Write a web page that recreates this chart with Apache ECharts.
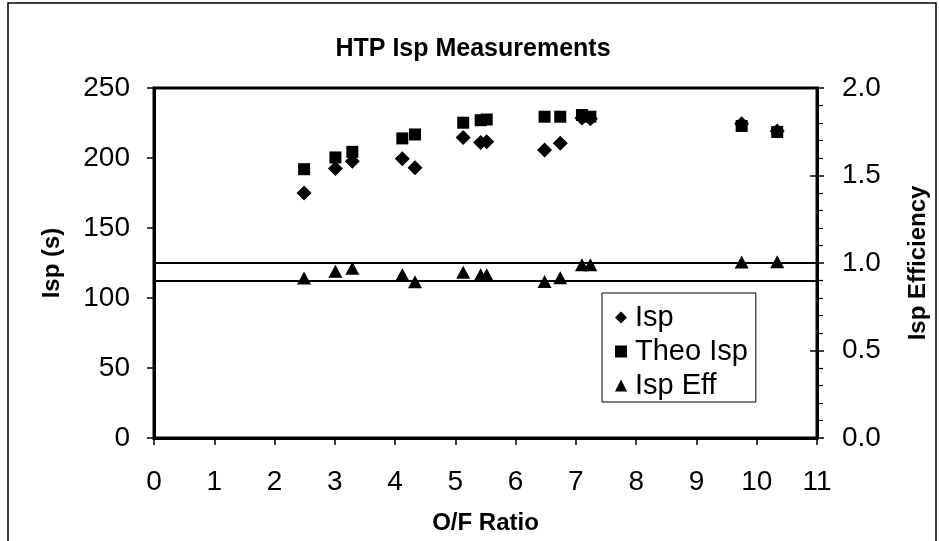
<!DOCTYPE html>
<html>
<head>
<meta charset="utf-8">
<script src="https://cdn.jsdelivr.net/npm/echarts@6/dist/echarts.min.js"></script>
<style>
html,body{margin:0;padding:0;background:#fff;}
#chart{width:939px;height:541px;}
</style>
</head>
<body>
<div id="chart"></div>
<script>
// Data
const ofRatio   = [2.49, 3.01, 3.29, 4.12, 4.33, 5.13, 5.42, 5.52, 6.48, 6.74, 7.10, 7.24, 9.75, 10.34];
const ispValues = [175, 192.5, 197.7, 199.4, 193, 214.7, 211, 211.6, 205.7, 210.5, 228.5, 228, 224.5, 219.3];
const theoIsp   = [192, 200.4, 204.4, 214, 216.8, 225.2, 227, 227.5, 229.5, 229.5, 230.7, 229.5, 222.9, 218.6];
const ispEff    = [0.914, 0.953, 0.97, 0.934, 0.893, 0.947, 0.933, 0.933, 0.895, 0.916, 0.99, 0.99, 1.006, 1.007];
const refLines  = [1.0, 0.9];
const seriesNames = ['Isp', 'Theo Isp', 'Isp Eff'];

const pair = (xs, ys) => xs.map((x, i) => [x, ys[i]]);
const FONT = '"Liberation Sans", Arial, Helvetica, sans-serif';

const chart = echarts.init(document.getElementById('chart'), null, {renderer: 'canvas'});
chart.setOption({
  backgroundColor: '#fff',
  animation: false,
  title: {
    text: 'HTP Isp Measurements',
    left: 468, top: 32, textAlign: 'center',
    textStyle: {fontFamily: FONT, fontWeight: 'bold', fontSize: 25, color: '#000'}
  },
  graphic: [{
    type: 'rect', silent: true,
    shape: {x: 8, y: 3, width: 928, height: 570},
    style: {fill: 'none', stroke: '#000', lineWidth: 1.5}
  }],
  grid: {left: 154, right: 122, top: 88, bottom: 103, show: true, borderColor: '#000', borderWidth: 3},
  legend: {
    orient: 'vertical', left: 602, top: 293,
    padding: [10, 8, 2, 13], itemGap: 5,
    itemWidth: 12, itemHeight: 12,
    borderColor: '#000', borderWidth: 1, backgroundColor: '#fff',
    textStyle: {fontFamily: FONT, fontSize: 29, color: '#000', padding: [0, 0, 0, 3]},
    data: [
      {name: seriesNames[0], icon: 'diamond'},
      {name: seriesNames[1], icon: 'rect'},
      {name: seriesNames[2], icon: 'triangle'}
    ]
  },
  xAxis: {
    type: 'value', min: 0, max: 11, interval: 1,
    name: 'O/F Ratio', nameLocation: 'middle', nameGap: 73,
    nameTextStyle: {fontFamily: FONT, fontWeight: 'bold', fontSize: 24, color: '#000'},
    axisLine: {show: true, lineStyle: {color: '#000', width: 3}},
    axisTick: {show: true, inside: false, length: 7, lineStyle: {color: '#000', width: 1.5}},
    axisLabel: {fontFamily: FONT, fontSize: 28, color: '#000', margin: 30},
    splitLine: {show: false}
  },
  yAxis: [{
    type: 'value', position: 'left', min: 0, max: 250, interval: 50,
    name: 'Isp (s)', nameLocation: 'middle', nameGap: 90, nameRotate: 90,
    nameTextStyle: {fontFamily: FONT, fontWeight: 'bold', fontSize: 24, color: '#000'},
    axisLine: {show: true, lineStyle: {color: '#000', width: 3}},
    axisTick: {show: true, inside: false, length: 7, lineStyle: {color: '#000', width: 1.5}},
    axisLabel: {fontFamily: FONT, fontSize: 28, color: '#000', margin: 24},
    splitLine: {show: false}
  }, {
    type: 'value', position: 'right', min: 0, max: 2, interval: 0.5,
    name: 'Isp Efficiency', nameLocation: 'middle', nameGap: 89, nameRotate: 90,
    nameTextStyle: {fontFamily: FONT, fontWeight: 'bold', fontSize: 24, color: '#000'},
    axisLine: {show: true, lineStyle: {color: '#000', width: 3}},
    axisTick: {show: true, inside: false, length: 7, lineStyle: {color: '#000', width: 1.5}},
    minorTick: {show: true, splitNumber: 5, length: 6, lineStyle: {color: '#000', width: 1.2}},
    axisLabel: {fontFamily: FONT, fontSize: 28, color: '#000', margin: 25,
      formatter: v => v.toFixed(1)},
    splitLine: {show: false}, minorSplitLine: {show: false}
  }, {
    type: 'value', position: 'right', min: 0, max: 2, interval: 0.5,
    axisLine: {show: false},
    axisTick: {show: true, inside: true, length: 7, lineStyle: {color: '#000', width: 1.5}},
    axisLabel: {show: false},
    splitLine: {show: false}
  }],
  series: [{
    name: seriesNames[0], type: 'scatter', yAxisIndex: 0,
    symbol: 'diamond', symbolSize: 15, z: 3,
    itemStyle: {color: '#000', opacity: 1},
    data: pair(ofRatio, ispValues)
  }, {
    name: seriesNames[1], type: 'scatter', yAxisIndex: 0,
    symbol: 'rect', symbolSize: 12, z: 2,
    itemStyle: {color: '#000', opacity: 1},
    data: pair(ofRatio, theoIsp)
  }, {
    name: seriesNames[2], type: 'scatter', yAxisIndex: 1,
    symbol: 'triangle', symbolSize: [14, 13], z: 4,
    itemStyle: {color: '#000', opacity: 1},
    data: pair(ofRatio, ispEff),
    markLine: {
      silent: true, symbol: ['none', 'none'], label: {show: false},
      lineStyle: {color: '#000', width: 2, type: 'solid'},
      data: refLines.map(v => ({yAxis: v}))
    }
  }]
});
</script>
</body>
</html>
